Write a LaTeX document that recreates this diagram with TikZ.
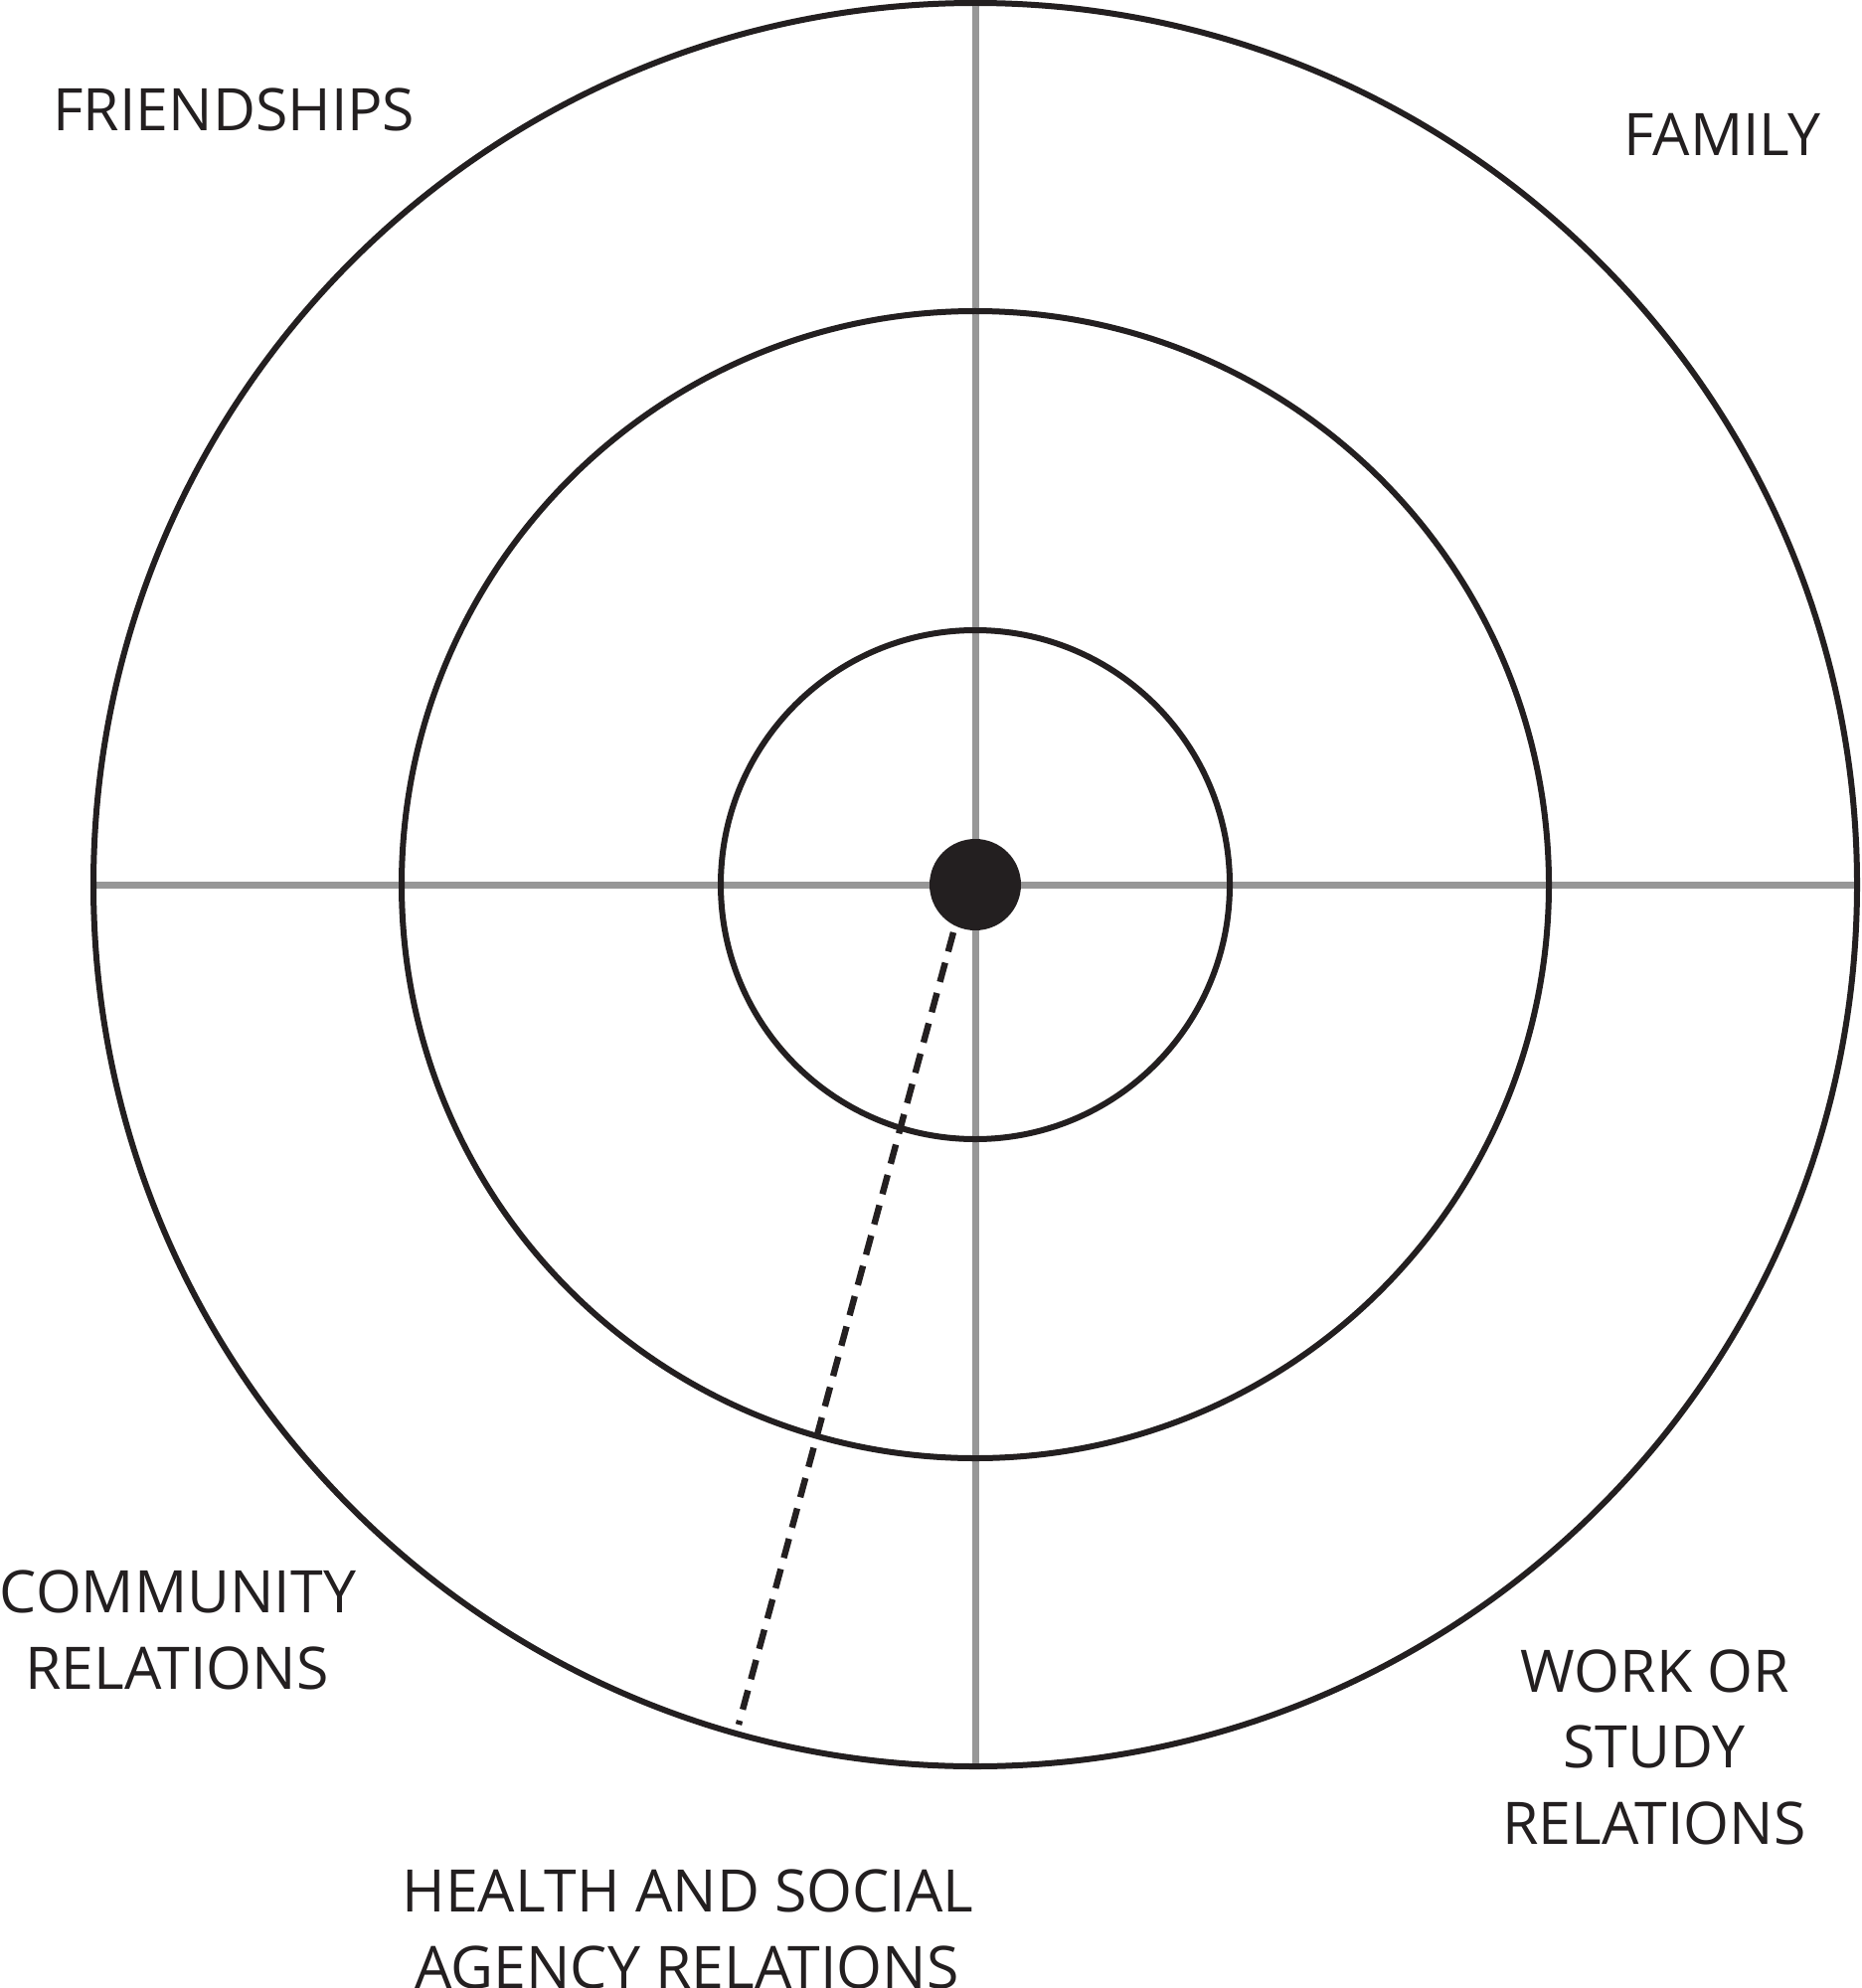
\documentclass[tikz,border=0pt]{standalone}
\usepackage{fontspec}
\setmainfont{Open Sans}
\definecolor{ink}{HTML}{231F20}
\definecolor{axisgray}{HTML}{979797}
\begin{document}
\begin{tikzpicture}[x=0.5pt,y=-0.5pt,
  ring/.style={draw=ink,line width=3pt},
  axisline/.style={draw=axisgray,line width=3.5pt},
  dashline/.style={draw=ink,line width=3.2pt,dash pattern=on 10pt off 5.8pt},
  lbl/.style={font=\fontsize{29.5}{36}\selectfont,text=ink,inner sep=0pt}]
\useasboundingbox (0,0) rectangle (1872,2000);
\coordinate (c) at (981,890);
\coordinate (vtop) at (981,3);
\coordinate (vbot) at (981,1777);
\coordinate (hleft) at (94,890);
\coordinate (hright) at (1868,890);
\draw[axisline] (vtop) -- (vbot);
\draw[axisline] (hleft) -- (hright);
\draw[ring] (c) circle [radius=887];
\draw[ring] (c) circle [radius=577];
\draw[ring] (c) circle [radius=256];
\node[circle,fill=ink,minimum size=46pt,inner sep=0pt] (me) at (c) {};
\coordinate (dstart) at (959,938);
\coordinate (dend) at (743,1735);
\draw[dashline] (dstart) -- (dend);
\node[lbl,anchor=base west] (friend) at (53,132) {FRIENDSHIPS};
\node[lbl,anchor=base east] (family) at (1832,157) {FAMILY};
\node[lbl,anchor=base] (comm1) at (179,1622) {COMMUNITY};
\node[lbl,anchor=base] (comm2) at (178,1699) {RELATIONS};
\node[lbl,anchor=base] (work1) at (1665,1702) {WORK OR};
\node[lbl,anchor=base] (work2) at (1664,1778) {STUDY};
\node[lbl,anchor=base] (work3) at (1664,1855) {RELATIONS};
\node[lbl,anchor=base] (health1) at (692,1923) {HEALTH AND SOCIAL};
\node[lbl,anchor=base] (health2) at (691,2000) {AGENCY RELATIONS};
\end{tikzpicture}
\end{document}
